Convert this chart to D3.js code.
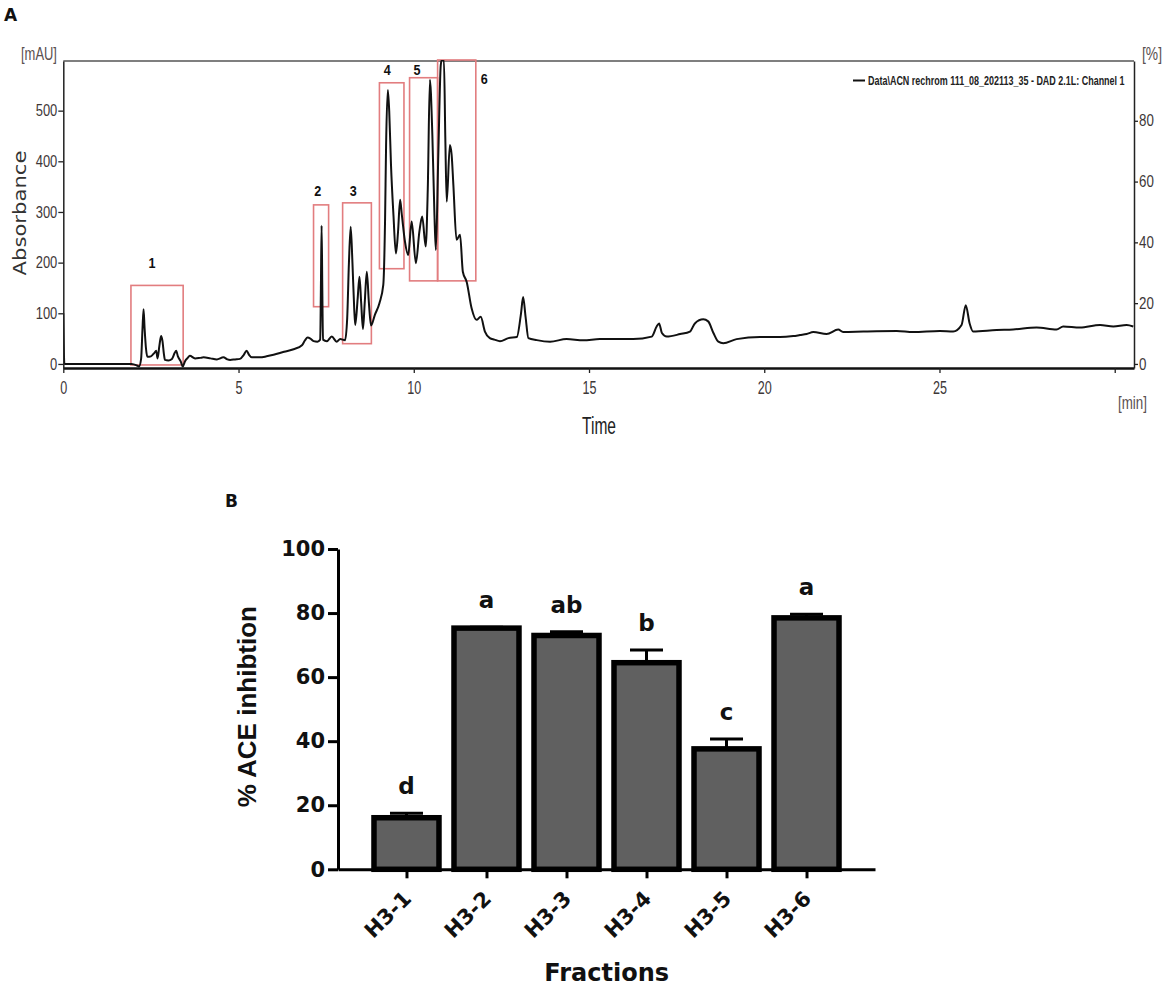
<!DOCTYPE html>
<html>
<head>
<meta charset="utf-8">
<script src="https://cdn.jsdelivr.net/npm/d3@7/dist/d3.min.js"></script>
<style>
  html, body { margin: 0; padding: 0; background: #fff; }
  svg { display: block; }
</style>
</head>
<body>
<svg id="chart" width="1170" height="998"></svg>
<script>
// ---------------- DATA: Panel A (chromatogram) ----------------
const timeMin = [0, 0.03, 0.5, 1.0, 1.5, 1.95, 2.1, 2.16, 2.22, 2.26, 2.29, 2.32, 2.36, 2.4, 2.5, 2.6, 2.65, 2.69, 2.74, 2.79, 2.83, 2.87, 2.9, 3.0, 3.1, 3.18, 3.22, 3.27, 3.35, 3.41, 3.47, 3.55, 3.61, 3.76, 3.9, 4.0, 4.2, 4.38, 4.57, 4.68, 4.76, 4.9, 5.04, 5.15, 5.23, 5.3, 5.38, 5.61, 5.8, 6.0, 6.3, 6.57, 6.81, 6.9, 6.97, 7.05, 7.14, 7.25, 7.33, 7.35, 7.37, 7.39, 7.41, 7.52, 7.66, 7.8, 7.9, 8.04, 8.1, 8.15, 8.2, 8.25, 8.3, 8.33, 8.4, 8.45, 8.5, 8.55, 8.6, 8.66, 8.72, 8.78, 8.89, 9.02, 9.13, 9.18, 9.21, 9.26, 9.3, 9.35, 9.42, 9.49, 9.55, 9.61, 9.66, 9.75, 9.84, 9.94, 10.06, 10.16, 10.24, 10.34, 10.4, 10.46, 10.53, 10.59, 10.63, 10.7, 10.77, 10.8, 10.86, 10.9, 10.94, 11.03, 11.08, 11.13, 11.22, 11.32, 11.4, 11.51, 11.65, 11.79, 11.91, 12.03, 12.17, 12.3, 12.46, 12.7, 12.94, 13.06, 13.12, 13.19, 13.27, 13.51, 13.89, 14.36, 14.84, 15.31, 15.79, 16.26, 16.79, 16.93, 17.0, 17.08, 17.22, 17.6, 17.88, 18.02, 18.26, 18.4, 18.55, 18.69, 18.83, 19.21, 19.88, 20.45, 20.83, 21.02, 21.21, 21.4, 21.78, 22.11, 22.25, 22.83, 23.78, 24.25, 25.01, 25.39, 25.63, 25.75, 25.86, 25.96, 26.63, 27.1, 27.77, 28.34, 28.53, 29.01, 29.58, 29.96, 30.34, 30.53];
const absorbance = [100, 0, 0, 0, 0, 0, -3, -5, 10, 70, 108, 70, 30, 14, 15, 22, 26, 11, 35, 55, 45, 20, 8, 7, 10, 22, 26, 15, 5, -5, 5, 12, 16, 11, 12, 13, 11, 9, 13, 9, 8, 9, 10, 18, 26, 18, 13, 13, 15, 18, 24, 29, 37, 47, 52, 50, 45, 44, 48, 150, 273, 150, 48, 45, 54, 44, 49, 47, 90, 200, 271, 200, 110, 77, 130, 172, 120, 69, 120, 182, 120, 76, 97, 120, 156, 281, 432, 541, 498, 393, 294, 218, 260, 324, 294, 241, 215, 281, 199, 261, 291, 232, 347, 561, 452, 294, 225, 413, 590, 600, 600, 446, 320, 432, 413, 353, 245, 255, 182, 162, 110, 87, 93, 64, 51, 48, 45, 51, 53, 100, 132, 93, 51, 47, 44, 49, 47, 49, 49, 49, 54, 74, 80, 61, 54, 59, 64, 80, 88, 84, 61, 44, 41, 49, 53, 53, 55, 57, 59, 63, 59, 68, 63, 64, 65, 63, 65, 64, 77, 116, 80, 64, 67, 68, 72, 68, 74, 72, 77, 74, 77, 74];

const xTickValues = [0, 5, 10, 15, 20, 25, 30];
const xTickLabels = ["0", "5", "10", "15", "20", "25", ""];
const yTickValues = [0, 100, 200, 300, 400, 500];
const yRightTickValues = [0, 20, 40, 60, 80];

// collected fraction windows (time range, absorbance range)
const fractionIds   = ["1", "2", "3", "4", "5", "6"];
const fracStart     = [1.93, 7.14, 7.97, 9.02, 9.88, 10.68];
const fracEnd       = [3.42, 7.57, 8.79, 9.72, 10.68, 11.77];
const fracLow       = [-2, 113, 40, 188, 164, 164];
const fracHigh      = [155, 314, 318, 555, 565, 600];
const fracLabelTime = [2.53, 7.26, 8.27, 9.24, 10.09, 12.01];
const fracLabelAbs  = [199, 342, 342, 580, 580, 562];

const legendText = "Data\\ACN rechrom 111_08_202113_35 - DAD 2.1L: Channel 1";

// ---------------- DATA: Panel B (bar chart) ----------------
const fractions = ["H3-1", "H3-2", "H3-3", "H3-4", "H3-5", "H3-6"];
const inhibition = [16.1, 75.3, 73.0, 64.5, 37.6, 78.5];
const inhibitionErr = [1.4, 0.3, 1.2, 4.0, 3.1, 1.1];
const sigLetters = ["d", "a", "ab", "b", "c", "a"];
const yBTickValues = [0, 20, 40, 60, 80, 100];

// ---------------- DRAW ----------------
const svg = d3.select("#chart");
const narrow = "'Liberation Sans', Arial, sans-serif";
const tickColor = "#3d3737";

// text squeezed horizontally to a target width (keeps it real text)
function fitText(parent, x, y, txt, opts) {
  const t = parent.append("text")
    .attr("x", 0).attr("y", 0)
    .attr("font-family", opts.family || narrow)
    .attr("font-size", opts.size)
    .attr("font-weight", opts.weight || "normal")
    .attr("fill", opts.color || tickColor)
    .text(txt);
  const w = t.node().getComputedTextLength();
  const sx = opts.width / w;
  let ox = 0;
  if (opts.anchor === "middle") ox = -opts.width / 2;
  if (opts.anchor === "end") ox = -opts.width;
  const rot = opts.rotate ? ` rotate(${opts.rotate})` : "";
  t.attr("transform", `translate(${x},${y})${rot} translate(${ox},0) scale(${sx},1)`);
  return t;
}

// ===== Panel A =====
const xA = d3.scaleLinear().domain([0, 30.55]).range([63.3, 1134]);
const yA = d3.scaleLinear().domain([-8, 598]).range([368, 61]);
const yR = d3.scaleLinear().domain([-8 / 6, 598 / 6]).range([368, 61]);

svg.append("text").attr("x", 4).attr("y", 20.5)
  .attr("font-family", "'DejaVu Sans', sans-serif").attr("font-weight", "bold")
  .attr("font-size", 17).attr("fill", "#111").text("A");

const gA = svg.append("g");

// top frame line
gA.append("line").attr("x1", xA.range()[0]).attr("x2", xA.range()[1])
  .attr("y1", 61).attr("y2", 61).attr("stroke", "#555").attr("stroke-width", 1.5);

// clip
svg.append("defs").append("clipPath").attr("id", "clipA")
  .append("rect").attr("x", 63.3).attr("y", 60).attr("width", 1134 - 63.3).attr("height", 308);

// fraction boxes
fractionIds.forEach((id, i) => {
  gA.append("rect")
    .attr("x", xA(fracStart[i])).attr("y", yA(fracHigh[i]))
    .attr("width", xA(fracEnd[i]) - xA(fracStart[i]))
    .attr("height", yA(fracLow[i]) - yA(fracHigh[i]))
    .attr("fill", "none").attr("stroke", "#e27d7f").attr("stroke-width", 1.6);
  fitText(gA, xA(fracLabelTime[i]), yA(fracLabelAbs[i]) + 5, id,
    { size: 15, weight: "bold", color: "#111", width: 7, anchor: "middle" });
});

// trace
const pts = timeMin.map((t, i) => [t, absorbance[i]]);
gA.append("path").datum(pts)
  .attr("clip-path", "url(#clipA)")
  .attr("d", d3.line().x(d => xA(d[0])).y(d => yA(d[1])).curve(d3.curveMonotoneX))
  .attr("fill", "none").attr("stroke", "#111").attr("stroke-width", 2)
  .attr("stroke-linejoin", "round");

// bottom axis
const axB = gA.append("g").attr("transform", "translate(0,368)")
  .call(d3.axisBottom(xA).tickValues(xTickValues)
    .tickFormat((d, i) => xTickLabels[i]).tickSize(5).tickSizeOuter(0).tickPadding(8));
axB.select(".domain").attr("stroke", "#111").attr("stroke-width", 2.5);
axB.selectAll(".tick line").attr("stroke", "#222").attr("stroke-width", 1.3);
axB.selectAll(".tick text").attr("font-family", narrow).attr("font-size", 19)
  .attr("fill", tickColor)
  .each(function (d, i) {
    const s = xTickLabels[i];
    if (s.length) d3.select(this).attr("textLength", s.length * 7).attr("lengthAdjust", "spacingAndGlyphs");
  });

// left axis
const axL = gA.append("g").attr("transform", "translate(63.3,0)")
  .call(d3.axisLeft(yA).tickValues(yTickValues).tickSize(5).tickSizeOuter(0).tickPadding(1));
axL.select(".domain").attr("stroke", "#222").attr("stroke-width", 1.5);
axL.selectAll(".tick line").attr("stroke", "#222").attr("stroke-width", 1.3);
axL.selectAll(".tick text").attr("font-family", narrow).attr("font-size", 16)
  .attr("fill", tickColor)
  .each(function (d) {
    d3.select(this).attr("textLength", String(d).length * 7.2).attr("lengthAdjust", "spacingAndGlyphs");
  });

// right axis
const axR = gA.append("g").attr("transform", "translate(1134,0)")
  .call(d3.axisRight(yR).tickValues(yRightTickValues).tickSize(4).tickSizeOuter(0).tickPadding(1));
axR.select(".domain").attr("stroke", "#222").attr("stroke-width", 1.5);
axR.selectAll(".tick line").attr("stroke", "#222").attr("stroke-width", 1.3);
axR.selectAll(".tick text").attr("font-family", narrow).attr("font-size", 16)
  .attr("fill", tickColor)
  .each(function (d) {
    d3.select(this).attr("textLength", String(d).length * 7.4).attr("lengthAdjust", "spacingAndGlyphs");
  });

// unit labels
fitText(svg, 21, 60, "[mAU]", { size: 18, width: 36, color: "#5a5050" });
fitText(svg, 1142, 60, "[%]", { size: 18, width: 20, color: "#5a5050" });
fitText(svg, 1118, 409, "[min]", { size: 18, width: 29, color: "#5a5050" });
fitText(svg, 599, 434, "Time", { size: 24, width: 34, color: "#222", anchor: "middle" });

svg.append("text")
  .attr("transform", "translate(26,213) rotate(-90)")
  .attr("text-anchor", "middle")
  .attr("font-family", "'DejaVu Sans', sans-serif").attr("font-size", 18)
  .attr("fill", "#333").attr("textLength", 125).attr("lengthAdjust", "spacingAndGlyphs")
  .text("Absorbance");

// legend
svg.append("line").attr("x1", 853).attr("x2", 865).attr("y1", 80.5).attr("y2", 80.5)
  .attr("stroke", "#111").attr("stroke-width", 2);
fitText(svg, 868, 85, legendText, { size: 12, weight: "bold", width: 257, color: "#222" });

// ===== Panel B =====
const boldFont = "'DejaVu Sans', sans-serif";
svg.append("text").attr("x", 225).attr("y", 507)
  .attr("font-family", boldFont).attr("font-weight", "bold")
  .attr("font-size", 17).attr("fill", "#111").text("B");

const xB = d3.scalePoint().domain(fractions).range([338, 875]).padding(0.856);
const yB = d3.scaleLinear().domain([0, 100]).range([869.3, 549]);
const gB = svg.append("g");

const barW = 65;
// bars
gB.selectAll("rect.bar").data(fractions).join("rect")
  .attr("class", "bar")
  .attr("x", d => xB(d) - barW / 2)
  .attr("width", barW)
  .attr("y", (d, i) => yB(inhibition[i]))
  .attr("height", (d, i) => yB(0) - yB(inhibition[i]))
  .attr("fill", "#606060").attr("stroke", "#000").attr("stroke-width", 5.5);

// error bars
fractions.forEach((f, i) => {
  const cx = xB(f);
  const yTop = yB(inhibition[i] + inhibitionErr[i]);
  gB.append("line").attr("x1", cx).attr("x2", cx)
    .attr("y1", yB(inhibition[i])).attr("y2", yTop)
    .attr("stroke", "#000").attr("stroke-width", 3);
  gB.append("line").attr("x1", cx - 16.5).attr("x2", cx + 16.5)
    .attr("y1", yTop).attr("y2", yTop)
    .attr("stroke", "#000").attr("stroke-width", 3);
  gB.append("text").attr("x", cx).attr("y", yTop - 19)
    .attr("text-anchor", "middle")
    .attr("font-family", boldFont).attr("font-weight", "bold")
    .attr("font-size", 23).attr("fill", "#111").text(sigLetters[i]);
});

// y axis B
const axYB = gB.append("g").attr("transform", "translate(338,0)")
  .call(d3.axisLeft(yB).tickValues(yBTickValues).tickSize(10).tickSizeOuter(0).tickPadding(3));
axYB.select(".domain").attr("stroke", "#000").attr("stroke-width", 3);
axYB.selectAll(".tick line").attr("stroke", "#000").attr("stroke-width", 3);
axYB.selectAll(".tick text").attr("font-family", boldFont).attr("font-weight", "bold")
  .attr("font-size", 21).attr("fill", "#111");

// x axis B
const axXB = gB.append("g").attr("transform", "translate(0,869.3)")
  .call(d3.axisBottom(xB).tickSize(9).tickSizeOuter(0).tickFormat(""));
axXB.select(".domain").attr("stroke", "#000").attr("stroke-width", 3);
axXB.selectAll(".tick line").attr("stroke", "#000").attr("stroke-width", 3);

gB.selectAll("text.xlab").data(fractions).join("text")
  .attr("class", "xlab")
  .attr("transform", d => `translate(${xB(d) + 6},900) rotate(-45)`)
  .attr("text-anchor", "end")
  .attr("font-family", boldFont).attr("font-weight", "bold")
  .attr("font-size", 21).attr("fill", "#111").text(d => d);

svg.append("text")
  .attr("transform", "translate(256,706.7) rotate(-90)")
  .attr("text-anchor", "middle")
  .attr("font-family", "'Liberation Sans', Arial, sans-serif").attr("font-weight", "bold")
  .attr("font-size", 26).attr("fill", "#111")
  .text("% ACE inhibtion");

svg.append("text").attr("x", 606.7).attr("y", 981)
  .attr("text-anchor", "middle")
  .attr("font-family", boldFont).attr("font-weight", "bold")
  .attr("font-size", 24).attr("fill", "#111").text("Fractions");
</script>
</body>
</html>
